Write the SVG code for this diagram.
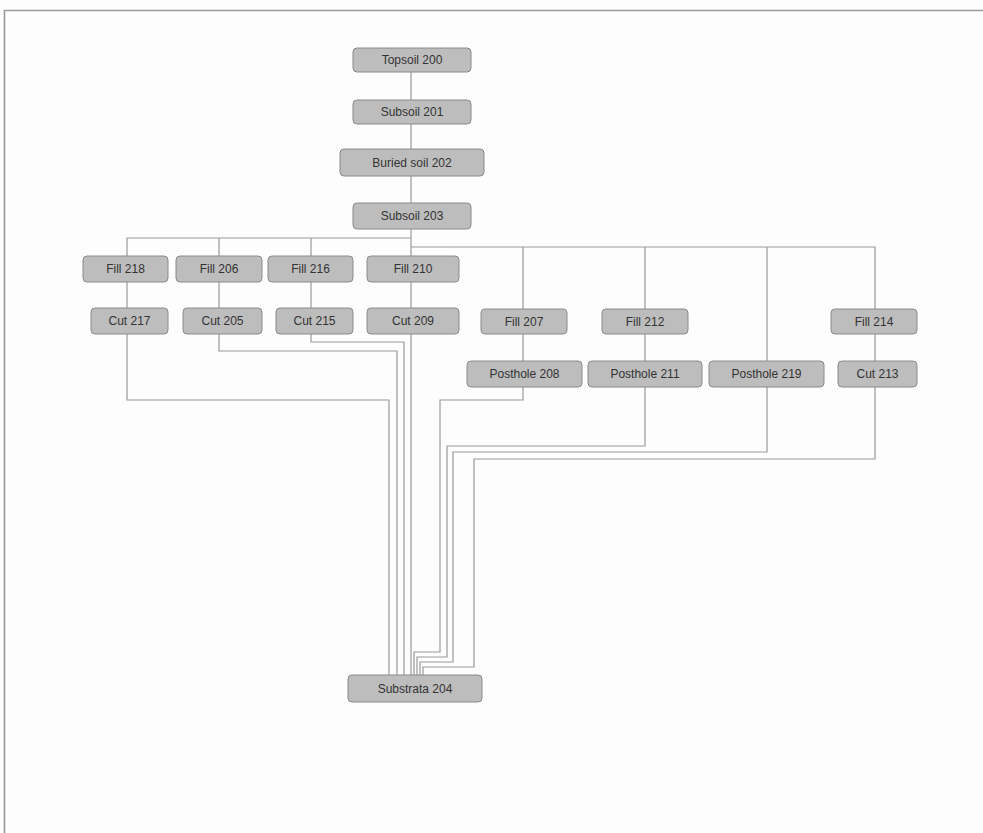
<svg xmlns="http://www.w3.org/2000/svg" width="983" height="833" viewBox="0 0 983 833">
<style>
.n rect{fill:#bdbdbd;stroke:#8a8a8a;stroke-width:1}
.n text{font-family:"Liberation Sans",Arial,sans-serif;font-size:12px;fill:#333;text-anchor:middle;dominant-baseline:central}
.c path{fill:none;stroke:#9a9a9a;stroke-width:1.2}
.frame{fill:none;stroke:#9a9a9a;stroke-width:1.6}
</style>
<rect width="983" height="833" fill="#fdfdfd"/>
<path class="frame" d="M4.5,833 V10.5 H983"/>
<g id="connectors" class="c">
<path d="M411,72 V100 M411,124 V149 M411,176 V203 M411,229 V256"/>
<path d="M127,256 V238 H411 M219,238 V256 M311,238 V256"/>
<path d="M411,247 H875 V309 M523,247 V309 M645,247 V309 M767,247 V361"/>
<path d="M127,282 V308 M219,282 V308 M311,282 V308 M411,282 V308"/>
<path d="M523,334 V361 M645,334 V361 M875,334 V361"/>
<path d="M127,334 V400 H389 V675"/>
<path d="M219,334 V351 H397 V675"/>
<path d="M311,334 V342 H404 V675"/>
<path d="M411,334 V675"/>
<path d="M523,387 V400 H440 V652 H414 V675"/>
<path d="M645,387 V446 H447 V657 H417 V675"/>
<path d="M767,387 V452 H453 V662 H420 V675"/>
<path d="M875,387 V459 H474 V667 H423 V675"/>
</g>
<g id="topsoil200" class="n"><rect x="353" y="48" width="118" height="24" rx="4"/><text x="412" y="60">Topsoil 200</text></g>
<g id="subsoil201" class="n"><rect x="353" y="100" width="118" height="24" rx="4"/><text x="412" y="112">Subsoil 201</text></g>
<g id="buriedsoil202" class="n"><rect x="340" y="149" width="144" height="27" rx="4"/><text x="412" y="162.5">Buried soil 202</text></g>
<g id="subsoil203" class="n"><rect x="353" y="203" width="118" height="26" rx="4"/><text x="412" y="216">Subsoil 203</text></g>
<g id="fill218" class="n"><rect x="83" y="256" width="85" height="26" rx="4"/><text x="125.5" y="269">Fill 218</text></g>
<g id="fill206" class="n"><rect x="176" y="256" width="86" height="26" rx="4"/><text x="219" y="269">Fill 206</text></g>
<g id="fill216" class="n"><rect x="268" y="256" width="85" height="26" rx="4"/><text x="310.5" y="269">Fill 216</text></g>
<g id="fill210" class="n"><rect x="367" y="256" width="92" height="26" rx="4"/><text x="413" y="269">Fill 210</text></g>
<g id="cut217" class="n"><rect x="91" y="308" width="77" height="26" rx="4"/><text x="129.5" y="321">Cut 217</text></g>
<g id="cut205" class="n"><rect x="183" y="308" width="79" height="26" rx="4"/><text x="222.5" y="321">Cut 205</text></g>
<g id="cut215" class="n"><rect x="276" y="308" width="77" height="26" rx="4"/><text x="314.5" y="321">Cut 215</text></g>
<g id="cut209" class="n"><rect x="367" y="308" width="92" height="26" rx="4"/><text x="413" y="321">Cut 209</text></g>
<g id="fill207" class="n"><rect x="481" y="309" width="86" height="25" rx="4"/><text x="524" y="321.5">Fill 207</text></g>
<g id="fill212" class="n"><rect x="602" y="309" width="86" height="25" rx="4"/><text x="645" y="321.5">Fill 212</text></g>
<g id="fill214" class="n"><rect x="831" y="309" width="86" height="25" rx="4"/><text x="874" y="321.5">Fill 214</text></g>
<g id="posthole208" class="n"><rect x="467" y="361" width="115" height="26" rx="4"/><text x="524.5" y="374">Posthole 208</text></g>
<g id="posthole211" class="n"><rect x="588" y="361" width="114" height="26" rx="4"/><text x="645" y="374">Posthole 211</text></g>
<g id="posthole219" class="n"><rect x="709" y="361" width="115" height="26" rx="4"/><text x="766.5" y="374">Posthole 219</text></g>
<g id="cut213" class="n"><rect x="838" y="361" width="79" height="26" rx="4"/><text x="877.5" y="374">Cut 213</text></g>
<g id="substrata204" class="n"><rect x="348" y="675" width="134" height="27" rx="4"/><text x="415" y="688.5">Substrata 204</text></g>
</svg>
